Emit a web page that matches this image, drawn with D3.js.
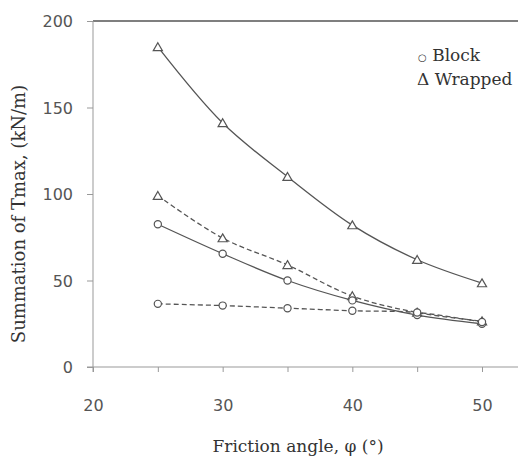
<!DOCTYPE html>
<html lang="en">
<head>
  <meta charset="UTF-8">
  <title>Summation of Tmax vs friction angle</title>
  <script src="https://d3js.org/d3.v7.min.js"></script>
  <style>
    body {
      margin: 0;
      background-color: #ffffff;
    }
    .tick-label {
      font-family: "DejaVu Sans", sans-serif;
      font-size: 16px;
      fill: #555;
    }
    .axis-title, .legend {
      font-family: "DejaVu Serif", serif;
      font-size: 17px;
      fill: #333;
    }
  </style>
</head>
<body>
  <div id="chart"></div>

  <script>
    const phi = [25, 30, 35, 40, 45, 50];
    const wrappedSolid = [185, 141, 110, 82, 62, 48.5];
    const wrappedDashed = [99, 74.5, 59, 41, 31.5, 26.5];
    const blockSolid = [82.5, 65.5, 50, 38.5, 30, 25];
    const blockDashed = [36.5, 35.5, 34, 32.5, 31.5, 26];
    const xTicks = [20, 25, 30, 35, 40, 45, 50];
    const yTicks = [0, 50, 100, 150, 200];

    const width = 518, height = 458;
    const svg = d3.select("#chart").append("svg").attr("width", width).attr("height", height);

    const x = d3.scaleLinear().domain([20, 50]).range([93, 482]);
    const y = d3.scaleLinear().domain([0, 200]).range([367, 21]);

    // frame: top line + axes
    svg.append("line").attr("x1", x(20)).attr("x2", width).attr("y1", y(200)).attr("y2", y(200))
      .attr("stroke", "#555").attr("stroke-width", 1.3);
    svg.append("line").attr("x1", x(20)).attr("x2", x(20)).attr("y1", y(200)).attr("y2", y(0) + 5)
      .attr("stroke", "#999");
    svg.append("line").attr("x1", x(20) - 6).attr("x2", width).attr("y1", y(0)).attr("y2", y(0))
      .attr("stroke", "#999");

    const xAxis = svg.append("g").attr("transform", `translate(0,${y(0)})`)
      .call(d3.axisBottom(x).tickValues(xTicks).tickSize(5).tickSizeOuter(0)
        .tickFormat(d => d % 10 === 0 ? d : ""));
    xAxis.select(".domain").remove();
    xAxis.selectAll("line").attr("stroke", "#999");
    xAxis.selectAll("text").attr("class", "tick-label").attr("y", 44).attr("dy", 0);

    const yAxis = svg.append("g").attr("transform", `translate(${x(20)},0)`)
      .call(d3.axisLeft(y).tickValues(yTicks).tickSize(6).tickSizeOuter(0));
    yAxis.select(".domain").remove();
    yAxis.selectAll("line").attr("stroke", "#999");
    yAxis.selectAll("text").attr("class", "tick-label").attr("x", -20).attr("dy", "0.35em");

    // series
    const series = [
      { values: wrappedSolid, dash: null, marker: "triangle" },
      { values: wrappedDashed, dash: "5,3", marker: "triangle" },
      { values: blockSolid, dash: null, marker: "circle" },
      { values: blockDashed, dash: "5,3", marker: "circle" }
    ];

    const line = d3.line().x(d => x(d[0])).y(d => y(d[1])).curve(d3.curveCatmullRom);
    const tri = d3.symbol().type(d3.symbolTriangle).size(36);

    series.forEach(s => {
      const pts = phi.map((p, i) => [p, s.values[i]]);
      svg.append("path").datum(pts).attr("d", line)
        .attr("fill", "none").attr("stroke", "#555").attr("stroke-width", 1.3)
        .attr("stroke-dasharray", s.dash);
      if (s.marker === "circle") {
        svg.append("g").selectAll("circle").data(pts).join("circle")
          .attr("cx", d => x(d[0])).attr("cy", d => y(d[1])).attr("r", 3.6)
          .attr("fill", "white").attr("stroke", "#555").attr("stroke-width", 1.2);
      } else {
        svg.append("g").selectAll("path").data(pts).join("path")
          .attr("d", tri).attr("transform", d => `translate(${x(d[0])},${y(d[1]) + 1})`)
          .attr("fill", "white").attr("stroke", "#555").attr("stroke-width", 1.2);
      }
    });

    // axis titles
    svg.append("text").attr("class", "axis-title").attr("x", 298).attr("y", 452)
      .attr("text-anchor", "middle").text("Friction angle, φ (°)");
    svg.append("text").attr("class", "axis-title").attr("text-anchor", "middle")
      .style("font-size", "18px")
      .attr("transform", "translate(25,214) rotate(-90)").text("Summation of Tmax, (kN/m)");

    // legend
    const legend = svg.append("g").attr("class", "legend");
    legend.append("text").attr("x", 418).attr("y", 61)
      .call(t => t.append("tspan").attr("font-size", 10).text("○"))
      .call(t => t.append("tspan").text(" Block"));
    legend.append("text").attr("x", 417).attr("y", 85).text("Δ Wrapped");
  </script>
</body>
</html>
